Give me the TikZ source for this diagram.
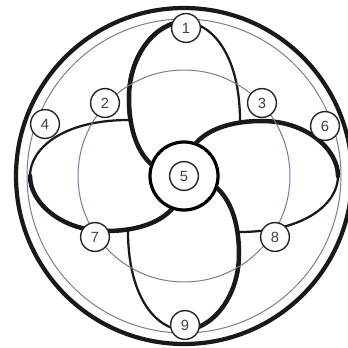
\documentclass[tikz,border=0pt]{standalone}
\usepackage{fontspec}
\setmainfont{Liberation Sans}
\definecolor{guidegray}{RGB}{120,120,155}
% one petal, pointing up, drawn about the origin
\newcommand{\drawpetal}{%
  \fill[white] (0,154) .. controls (-27,154) and (-55,122) .. (-55,78)
    .. controls (-55,42) and (-44,22) .. (-33,12)
    .. controls (-24,2) and (-12,-12) .. (0,-12)
    .. controls (28,-12) and (57,20) .. (56,55)
    .. controls (56,122) and (27,154) .. (0,154) -- cycle;
  \draw[petalthin] (0,-12) .. controls (28,-12) and (57,20) .. (56,55)
    .. controls (56,122) and (27,154) .. (0,154);
  \draw[petalthick] (0,154) .. controls (-27,154) and (-55,122) .. (-55,78)
    .. controls (-55,42) and (-44,22) .. (-33,12)
    .. controls (-24,2) and (-12,-12) .. (0,-12);
}
\begin{document}
\begin{tikzpicture}[x=0.025cm,y=0.025cm]
\tikzset{
  labelnode/.style={circle,draw=black!85,line width=1pt,fill=white,minimum size=0.72cm,inner sep=0pt,font=\fontsize{10.5}{12}\selectfont,text=black!75},
  hubnode/.style={circle,draw,line width=2.3pt,fill=white,minimum size=1.7cm,inner sep=0pt},
  petalthick/.style={line width=3.2pt,line cap=round,black!90},
  petalthin/.style={line width=1.6pt,line cap=round,black!90},
  guide/.style={draw=guidegray,line width=0.7pt},
  rim/.style={line width=3pt,black!90}
}
\useasboundingbox (0,0) rectangle (348,348);
\coordinate (c) at (184,172);
\draw[rim] (c) circle[radius=168];
% petals: top, right, bottom, left
\begin{scope}[shift={(c)}] \drawpetal \end{scope}
\begin{scope}[shift={(c)},rotate=-90] \drawpetal \end{scope}
\begin{scope}[shift={(c)},rotate=180] \drawpetal \end{scope}
\begin{scope}[shift={(c)},rotate=90] \drawpetal \end{scope}
% top petal again over the left one
\begin{scope}[shift={(c)}]
  \clip (-200,0) rectangle (0,200);
  \drawpetal
\end{scope}
\draw[guide] (c) circle[radius=157];
\draw[guide] (c) circle[radius=106];
\node[hubnode] (n_hub) at (c) {};
\node[labelnode] (n_5) at (c) {5};
\node[labelnode] (n_1) at (186,320) {1};
\node[labelnode] (n_2) at (105,245) {2};
\node[labelnode] (n_3) at (262,245) {3};
\node[labelnode] (n_4) at (45,224) {4};
\node[labelnode] (n_6) at (325,222) {6};
\node[labelnode] (n_7) at (95,111) {7};
\node[labelnode] (n_8) at (275,111) {8};
\node[labelnode] (n_9) at (185,23) {9};
\end{tikzpicture}
\end{document}
